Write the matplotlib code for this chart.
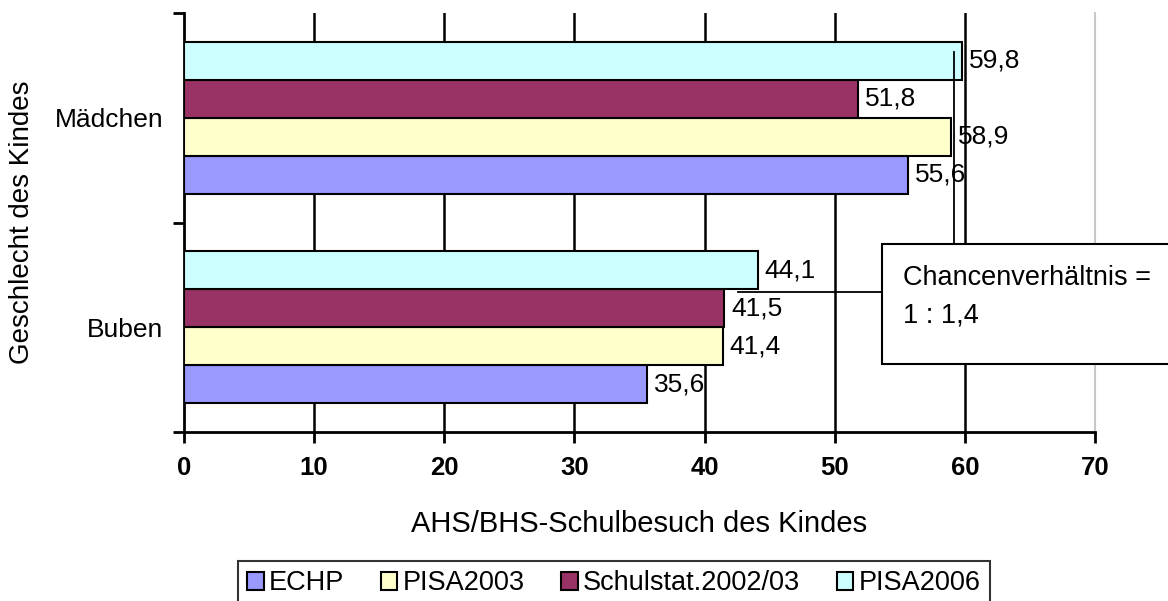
import matplotlib
matplotlib.use("Agg")
import matplotlib.pyplot as plt
from matplotlib.patches import Rectangle

plt.rcParams["font.family"] = ["Liberation Sans", "DejaVu Sans"]

categories = ["Buben", "Mädchen"]
series = ["ECHP", "PISA2003", "Schulstat.2002/03", "PISA2006"]
colors = ["#9999FF", "#FFFFCC", "#993366", "#CCFFFF"]
echp = [35.6, 55.6]
pisa2003 = [41.4, 58.9]
schulstat = [41.5, 51.8]
pisa2006 = [44.1, 59.8]
values = [echp, pisa2003, schulstat, pisa2006]
x_ticks = [0, 10, 20, 30, 40, 50, 60, 70]

fig = plt.figure(figsize=(11.68, 6.01), dpi=100)
ax = fig.add_axes([184 / 1168, 1 - 432 / 601, (1095 - 184) / 1168, (432 - 13) / 601])

h = 0.181
ypos = list(range(len(categories)))
for i, (name, vals, col) in enumerate(zip(series, values, colors)):
    off = (i - 1.5) * h
    bars = ax.barh([y + off for y in ypos], vals, height=h, color=col,
                   edgecolor="black", linewidth=1.5, label=name, zorder=3)
    for b, v in zip(bars, vals):
        ax.annotate(f"{v:.1f}".replace(".", ","),
                    (b.get_width(), b.get_y() + b.get_height() / 2),
                    xytext=(5, 0), textcoords="offset points",
                    va="center", ha="left", fontsize=19, zorder=5)

ax.set_xlim(0, 70)
ax.set_ylim(-0.5, 1.5)
ax.set_xticks(x_ticks)
ax.set_xticklabels([str(t) for t in x_ticks], fontweight="bold", fontsize=18.5)
ax.tick_params(axis="x", length=8, width=2, pad=9, direction="out")
for t in x_ticks[1:-1]:
    ax.axvline(t, color="black", linewidth=1.8, zorder=1)

ax.set_yticks([-0.5, 0.5, 1.5])
ax.set_yticklabels([])
ax.tick_params(axis="y", length=8, width=2, direction="out")
ax.set_yticks(ypos, minor=True)
ax.set_yticklabels(categories, minor=True, fontsize=19)
ax.tick_params(axis="y", which="minor", length=0, pad=15)

ax.spines["top"].set_visible(False)
ax.spines["right"].set_color("#c8c8c8")
ax.spines["right"].set_linewidth(1.5)
ax.spines["left"].set_linewidth(2)
ax.spines["bottom"].set_linewidth(2)

ax.set_xlabel("AHS/BHS-Schulbesuch des Kindes", fontsize=21)
ax.xaxis.set_label_coords(0.5, -0.185)
fig.text(22 / 1168, 1 - 222 / 601, "Geschlecht des Kindes", rotation=90,
         ha="center", va="center", fontsize=20)

# callout lines and box
ax.plot([59.2, 59.2], [1.314, 0.397], color="black", linewidth=1.3,
        zorder=4, clip_on=False)
ax.plot([42.56, 53.63], [0.168, 0.168], color="black", linewidth=1.3,
        zorder=4, clip_on=False)
fig.patches.append(Rectangle((882 / 1168, 1 - 364 / 601), 0.3, 120 / 601,
                             transform=fig.transFigure, facecolor="white",
                             edgecolor="black", linewidth=1.5, zorder=6))
fig.text(903 / 1168, 1 - 285 / 601, "Chancenverhältnis =",
         fontsize=19.5, ha="left", va="baseline", zorder=7)
fig.text(903 / 1168, 1 - 322 / 601, "1 : 1,4",
         fontsize=19.5, ha="left", va="baseline", zorder=7)

leg = fig.legend(loc="upper left", bbox_to_anchor=(238 / 1168, 1 - 561 / 601),
                 ncol=4, fontsize=19.5, frameon=True, fancybox=False,
                 edgecolor="black", handlelength=0.6, handleheight=0.6,
                 handletextpad=0.2, columnspacing=1.35, borderpad=0.35,
                 borderaxespad=0)
leg.get_frame().set_linewidth(1.5)

fig.savefig("out.png", dpi=100)
